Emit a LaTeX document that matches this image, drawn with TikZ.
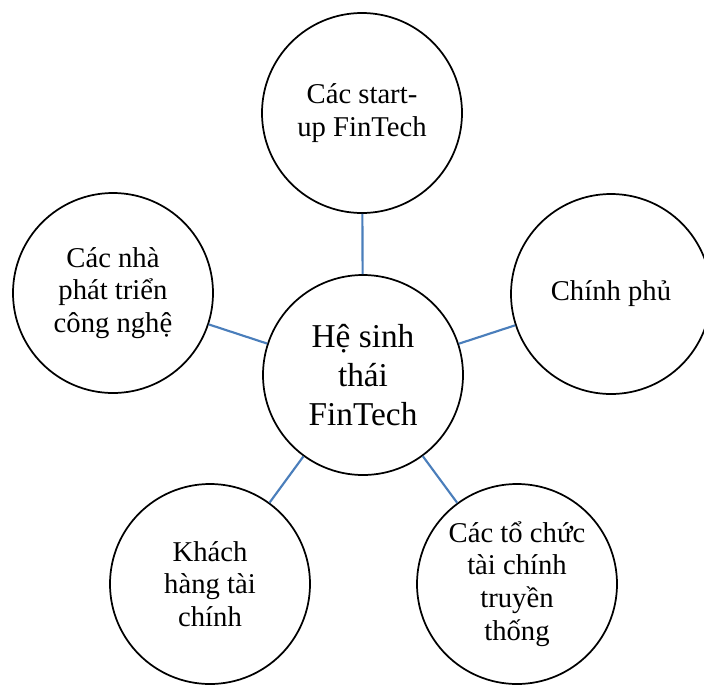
\documentclass[tikz,border=0pt]{standalone}
\usepackage{fontspec}
\setmainfont{Liberation Serif}
\definecolor{linkblue}{RGB}{74,126,187}
\begin{document}
\begin{tikzpicture}[x=0.75pt,y=-0.75pt,
  bub/.style={circle, draw=black, line width=1.3pt, minimum size=150pt, inner sep=0pt,
    align=center, fill=white, font=\fontsize{21.5}{24.5}\selectfont},
  hub/.style={bub, font=\fontsize{25}{29.5}\selectfont},
  link/.style={draw=linkblue, line width=1.6pt}]
\path[use as bounding box, clip] (0,0) rectangle (704,686);
\node[hub] (c) at (363,375) {Hệ sinh\\thái\\FinTech};
\node[bub] (t) at (362,113) {Các start-\\up FinTech};
\node[bub] (r) at (611,294) {Chính phủ};
\node[bub] (l) at (113,293) {Các nhà\\phát triển\\công nghệ};
\node[bub] (bl) at (210,584) {Khách\\hàng tài\\chính};
\node[bub] (br) at (517,584) {Các tổ chức\\tài chính\\truyền\\thống};
\draw[link] (c) -- (t);
\draw[link] (c) -- (r);
\draw[link] (c) -- (l);
\draw[link] (c) -- (bl);
\draw[link] (c) -- (br);
\end{tikzpicture}
\end{document}
